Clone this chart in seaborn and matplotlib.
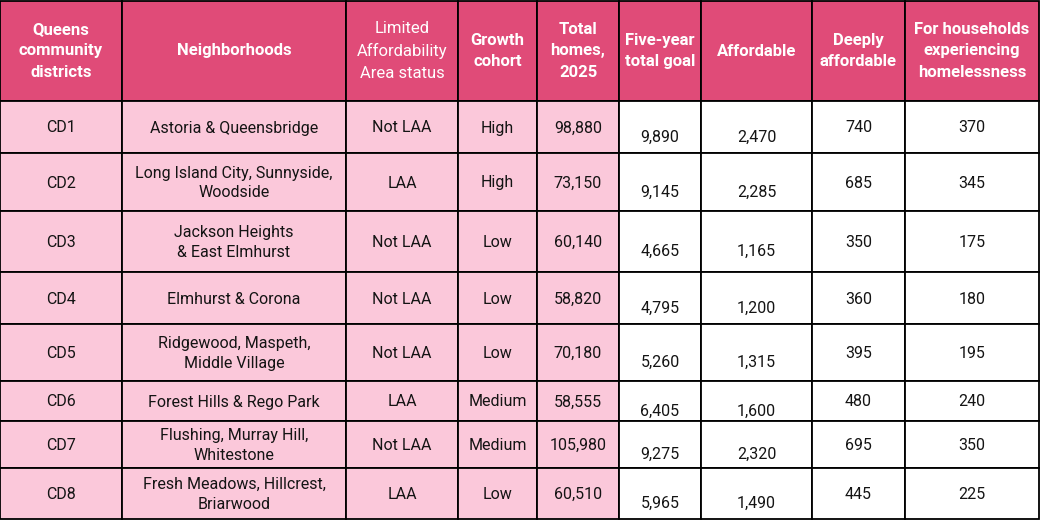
import matplotlib
matplotlib.use("Agg")
from matplotlib import pyplot as plt
from matplotlib.patches import Rectangle
import seaborn as sns

# table contents
headers = ["Queens\ncommunity\ndistricts", "Neighborhoods",
           "Limited\nAffordability\nArea status", "Growth\ncohort",
           "Total\nhomes,\n2025", "Five-year\ntotal goal", "Affordable",
           "Deeply\naffordable", "For households\nexperiencing\nhomelessness"]
districts = ["CD1", "CD2", "CD3", "CD4", "CD5", "CD6", "CD7", "CD8"]
neighborhoods = ["Astoria & Queensbridge", "Long Island City, Sunnyside,\nWoodside",
                 "Jackson Heights\n& East Elmhurst", "Elmhurst & Corona",
                 "Ridgewood, Maspeth,\nMiddle Village", "Forest Hills & Rego Park",
                 "Flushing, Murray Hill,\nWhitestone", "Fresh Meadows, Hillcrest,\nBriarwood"]
laa_status = ["Not LAA", "LAA", "Not LAA", "Not LAA", "Not LAA", "LAA", "Not LAA", "LAA"]
growth = ["High", "High", "Low", "Low", "Low", "Medium", "Medium", "Low"]
total_homes = [98880, 73150, 60140, 58820, 70180, 58555, 105980, 60510]
five_year_goal = [9890, 9145, 4665, 4795, 5260, 6405, 9275, 5965]
affordable = [2470, 2285, 1165, 1200, 1315, 1600, 2320, 1490]
deeply = [740, 685, 350, 360, 395, 480, 695, 445]
homeless = [370, 345, 175, 180, 195, 240, 350, 225]

# layout (pixels)
col_edges = [0, 122, 346, 458, 537, 619, 701, 812, 905, 1039]
row_edges = [1, 101, 153, 211, 272, 324, 381, 421, 468, 519]

HEAD = "#E04B78"
PINK = "#FBC8DA"
TEXT = "#141414"

sns.set_theme(style="white")
plt.rcParams["font.family"] = ["Roboto", "DejaVu Sans"]

fig = plt.figure(figsize=(10.4, 5.2), dpi=100)
ax = fig.add_axes([0, 0, 1, 1])
ax.set_xlim(0, 1040)
ax.set_ylim(520, 0)
ax.axis("off")

body = [districts, neighborhoods, laa_status, growth,
        [f"{v:,}" for v in total_homes], [f"{v:,}" for v in five_year_goal],
        [f"{v:,}" for v in affordable], [f"{v:,}" for v in deeply],
        [f"{v:,}" for v in homeless]]
low_cols = {5, 6}  # these columns sit a little below the middle

for c in range(9):
    x0, x1 = col_edges[c], col_edges[c + 1]
    cx = (x0 + x1) / 2
    # header
    y0, y1 = row_edges[0], row_edges[1]
    ax.add_patch(Rectangle((x0, y0), x1 - x0, y1 - y0, facecolor=HEAD,
                           edgecolor="black", lw=1.3, zorder=1))
    ax.text(cx, (y0 + y1) / 2, headers[c], ha="center", va="center",
            color="white", fontsize=12, linespacing=1.55,
            fontweight="normal" if c == 2 else "bold", zorder=3)
    for r in range(8):
        y0, y1 = row_edges[r + 1], row_edges[r + 2]
        fc = PINK if c < 5 else "white"
        ax.add_patch(Rectangle((x0, y0), x1 - x0, y1 - y0, facecolor=fc,
                               edgecolor="black", lw=1.3, zorder=1))
        cy = (y0 + y1) / 2 + (10 if c in low_cols else 1)
        ax.text(cx, cy, body[c][r], ha="center", va="center", color=TEXT,
                fontsize=11.5, linespacing=1.4, zorder=3)

fig.savefig("out.png", dpi=100, facecolor="white")
